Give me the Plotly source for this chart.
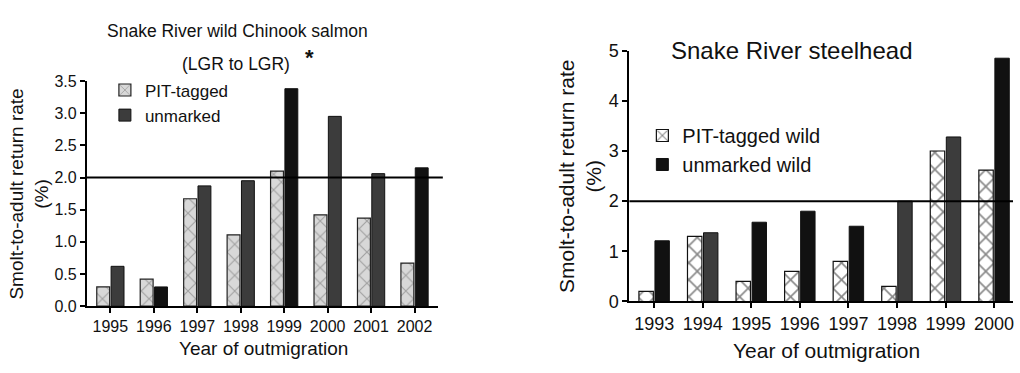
import plotly.graph_objects as go

W, H = 1020, 373

# ---- data ----
chinook_years = ["1995", "1996", "1997", "1998", "1999", "2000", "2001", "2002"]
chinook_pit = [0.30, 0.42, 1.67, 1.11, 2.10, 1.42, 1.37, 0.67]
chinook_unmarked = [0.62, 0.30, 1.87, 1.95, 3.38, 2.95, 2.06, 2.15]
chinook_unmarked_colors = ["#3c3c3c", "#111111", "#3c3c3c", "#3c3c3c", "#111111", "#3c3c3c", "#3c3c3c", "#111111"]

steel_years = ["1993", "1994", "1995", "1996", "1997", "1998", "1999", "2000"]
steel_pit = [0.20, 1.30, 0.40, 0.60, 0.80, 0.30, 3.00, 2.62]
steel_unmarked = [1.21, 1.37, 1.58, 1.80, 1.50, 2.00, 3.28, 4.85]
steel_unmarked_colors = ["#111111", "#3c3c3c", "#111111", "#111111", "#111111", "#3c3c3c", "#3c3c3c", "#111111"]

left_ticks = [0.0, 0.5, 1.0, 1.5, 2.0, 2.5, 3.0, 3.5]
right_ticks = [0, 1, 2, 3, 4, 5]
reference_rate = 2.0

FONT = "Liberation Sans, Arial, sans-serif"


def px(x):
    return x / W


def py(y):
    return 1 - y / H


fig = go.Figure()

fig.add_trace(go.Bar(
    x=chinook_years, y=chinook_pit, name="PIT-tagged", xaxis="x", yaxis="y",
    marker=dict(color="#d4d4d4", line=dict(color="#222", width=1.2),
                pattern=dict(shape="x", fgcolor="#6a6a6a", bgcolor="#d8d8d8", size=11, solidity=0.2)),
    legend="legend",
))
fig.add_trace(go.Bar(
    x=chinook_years, y=chinook_unmarked, name="unmarked", xaxis="x", yaxis="y",
    marker=dict(color=chinook_unmarked_colors, line=dict(color="#111", width=1)),
    legend="legend",
))
fig.add_trace(go.Bar(
    x=steel_years, y=steel_pit, name="PIT-tagged wild", xaxis="x2", yaxis="y2",
    marker=dict(color="white", line=dict(color="#111", width=1.2),
                pattern=dict(shape="x", fgcolor="#111", bgcolor="white", size=12, solidity=0.25)),
    legend="legend2",
))
fig.add_trace(go.Bar(
    x=steel_years, y=steel_unmarked, name="unmarked wild", xaxis="x2", yaxis="y2",
    marker=dict(color=steel_unmarked_colors, line=dict(color="#111", width=1)),
    legend="legend2",
))

axis_common = dict(showline=True, linecolor="black", linewidth=2, ticks="outside",
                   tickcolor="black", ticklen=5, tickwidth=1.5, showgrid=False,
                   zeroline=False, fixedrange=True)

fig.update_layout(
    width=W, height=H, margin=dict(l=0, r=0, t=0, b=0),
    paper_bgcolor="white", plot_bgcolor="white",
    font=dict(family=FONT, color="#111"),
    barmode="group", bargap=0.34, bargroupgap=0.1,
    xaxis=dict(domain=[px(87), px(438)], anchor="y", type="category",
               range=[-0.54, 7.53], tickfont=dict(size=16), **axis_common),
    yaxis=dict(domain=[py(313), py(75)], anchor="x", range=[0, 3.5],
               tickvals=left_ticks, tickformat=".1f", tickfont=dict(size=16), **axis_common),
    xaxis2=dict(domain=[px(630), px(1014)], anchor="y2", type="category",
                range=[-0.51, 7.39], tickfont=dict(size=18), **axis_common),
    yaxis2=dict(domain=[py(308), py(43)], anchor="x2", range=[0, 5],
                tickvals=right_ticks, tickfont=dict(size=18), **axis_common),
    legend=dict(x=px(105), y=py(66), xanchor="left", yanchor="top",
                bgcolor="rgba(0,0,0,0)", font=dict(size=17), tracegroupgap=0,
                itemwidth=30),
    legend2=dict(x=px(643), y=py(112), xanchor="left", yanchor="top",
                 bgcolor="rgba(0,0,0,0)", font=dict(size=20), tracegroupgap=0,
                 itemwidth=30),
    showlegend=True,
)

# reference lines at 2%
fig.add_shape(type="line", xref="x domain", yref="y", x0=0, x1=1.015,
              y0=reference_rate, y1=reference_rate, line=dict(color="black", width=2))
fig.add_shape(type="line", xref="x2 domain", yref="y2", x0=0, x1=1,
              y0=reference_rate, y1=reference_rate, line=dict(color="black", width=2))

ann = [
    dict(text="Snake River wild Chinook salmon", x=px(238), y=py(22), size=17.5),
    dict(text="(LGR to LGR)", x=px(236), y=py(57), size=17.5),
    dict(text="<b>*</b>", x=px(310), y=py(50), size=22),
    dict(text="Snake River steelhead", x=px(792), y=py(43), size=24),
    dict(text="Year of outmigration", x=px(264), y=py(358), size=19),
    dict(text="Year of outmigration", x=px(827), y=py(360), size=21),
]
for a in ann:
    fig.add_annotation(text=a["text"], x=a["x"], y=a["y"], xref="paper", yref="paper",
                       xanchor="center", yanchor="middle", showarrow=False,
                       font=dict(size=a["size"], family=FONT, color="#111"))

fig.add_annotation(text="Smolt-to-adult return rate<br>(%)", x=px(29), y=py(194),
                   xref="paper", yref="paper", xanchor="center", yanchor="middle",
                   textangle=-90, showarrow=False,
                   font=dict(size=19, family=FONT, color="#111"))
fig.add_annotation(text="Smolt-to-adult return rate<br>(%)", x=px(580), y=py(176),
                   xref="paper", yref="paper", xanchor="center", yanchor="middle",
                   textangle=-90, showarrow=False,
                   font=dict(size=21, family=FONT, color="#111"))

fig.write_html("out.html")
